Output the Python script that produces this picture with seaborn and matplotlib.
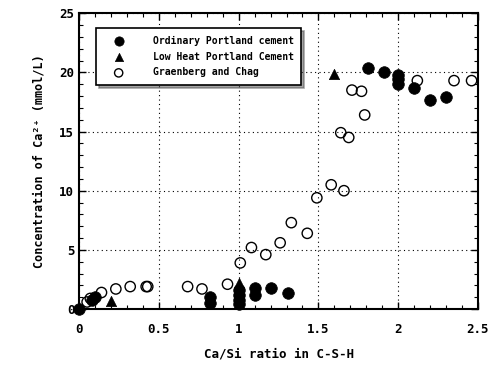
import matplotlib
matplotlib.use("Agg")
import matplotlib.pyplot as plt
import seaborn as sns
import pandas as pd
from matplotlib.ticker import MultipleLocator

# Ordinary Portland cement (filled circles)
opc_x = [0.0, 0.08, 0.10, 0.82, 0.82, 1.0, 1.0, 1.0, 1.0, 1.1, 1.1, 1.2, 1.31,
         1.81, 1.91, 2.0, 2.0, 2.0, 2.1, 2.2, 2.3]
opc_y = [0.0, 0.8, 1.0, 0.5, 1.0, 0.4, 0.8, 1.2, 1.6, 1.2, 1.8, 1.8, 1.4,
         20.4, 20.0, 19.8, 19.4, 19.0, 18.7, 17.7, 17.9]

# Low Heat Portland Cement (triangles)
lh_x = [0.2, 1.0, 1.6]
lh_y = [0.7, 2.2, 19.9]

# Grassberg and Chag (open circles)
gc_x = [0.05, 0.07, 0.14, 0.23, 0.32, 0.42, 0.43, 0.68, 0.77, 0.93, 1.01, 1.08,
        1.17, 1.26, 1.33, 1.43, 1.49, 1.58, 1.66, 1.64, 1.69, 1.71, 1.77, 1.79,
        2.12, 2.35, 2.46]
gc_y = [0.6, 0.9, 1.4, 1.7, 1.9, 1.9, 1.9, 1.9, 1.7, 2.1, 3.9, 5.2,
        4.6, 5.6, 7.3, 6.4, 9.4, 10.5, 10.0, 14.9, 14.5, 18.5, 18.4, 16.4,
        19.3, 19.3, 19.3]

labels = ["Ordinary Portland cement", "Low Heat Portland Cement", "Graenberg and Chag"]

df = pd.DataFrame({
    "x": opc_x + lh_x + gc_x,
    "y": opc_y + lh_y + gc_y,
    "series": [labels[0]] * len(opc_x) + [labels[1]] * len(lh_x) + [labels[2]] * len(gc_x),
})

sns.set_style("ticks")
plt.rcParams["font.family"] = ["DejaVu Sans Mono", "DejaVu Sans"]
plt.rcParams["font.weight"] = "bold"
for k in ["text.color", "axes.labelcolor", "xtick.color", "ytick.color",
          "xtick.labelcolor", "ytick.labelcolor"]:
    plt.rcParams[k] = "black"

fig = plt.figure(figsize=(5.01, 3.76), dpi=100)
ax = fig.add_axes([0.158, 0.178, 0.796, 0.787])

sub = df[df.series == labels[0]]
sns.scatterplot(data=sub, x="x", y="y", ax=ax, marker="o", s=70, color="black",
                edgecolor="black", linewidth=0.5, label=labels[0], zorder=3, clip_on=False)
sub = df[df.series == labels[1]]
sns.scatterplot(data=sub, x="x", y="y", ax=ax, marker="^", s=55, color="black",
                edgecolor="black", linewidth=0.5, label=labels[1], zorder=3, clip_on=False)
sub = df[df.series == labels[2]]
sns.scatterplot(data=sub, x="x", y="y", ax=ax, marker="o", s=55, facecolor="none",
                edgecolor="black", linewidth=1.0, label=labels[2], zorder=3, clip_on=False)

ax.set_xlim(0, 2.5)
ax.set_ylim(0, 25)
ax.xaxis.set_major_locator(MultipleLocator(0.5))
ax.xaxis.set_minor_locator(MultipleLocator(0.1))
ax.yaxis.set_major_locator(MultipleLocator(5))
ax.yaxis.set_minor_locator(MultipleLocator(1))
ax.set_xticks([0, 0.5, 1, 1.5, 2, 2.5])
ax.set_xticklabels(["0", "0.5", "1", "1.5", "2", "2.5"])
ax.tick_params(which="both", direction="in", top=True, right=True, labelsize=9,
               colors="black")
ax.tick_params(which="major", length=5, width=1)
ax.tick_params(which="minor", length=3, width=0.8)
ax.tick_params(axis="x", pad=10)
ax.grid(True, which="major", linestyle=(0, (1, 3)), color="black", linewidth=0.8)
for sp in ax.spines.values():
    sp.set_linewidth(1.5)
    sp.set_color("black")

ax.set_xlabel("Ca/Si ratio in C-S-H", fontsize=9, fontweight="bold", labelpad=8,
              color="black")
ax.set_ylabel("Concentration of Ca²⁺ (mmol/L)", fontsize=8.5, fontweight="bold",
              labelpad=10, color="black")

leg = ax.legend(loc="upper left", bbox_to_anchor=(0.043, 0.95), fontsize=7,
                frameon=True, fancybox=False, shadow=True, borderpad=0.8,
                handletextpad=2.0, labelspacing=0.6, borderaxespad=0,
                handlelength=3.0, framealpha=1, markerscale=0.8)
leg.get_frame().set_edgecolor("black")
leg.get_frame().set_linewidth(1.2)
for t in leg.get_texts():
    t.set_fontweight("bold")
    t.set_color("black")

fig.savefig("out.png", dpi=100)
